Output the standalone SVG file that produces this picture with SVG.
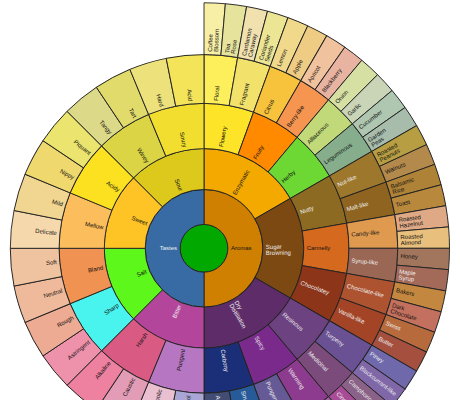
<svg xmlns="http://www.w3.org/2000/svg" width="460" height="400" viewBox="0 0 460 400">
<style>
.seg{stroke:#222;stroke-width:.9}
text{font-family:"Liberation Sans",Arial,Helvetica,sans-serif;font-size:6px;fill:#111}
.w{fill:#eee}
.e{text-anchor:end}
</style>
<defs>
<path id="r1" d="M0,-23.9L0,-58.8A58.8,58.8 0 0 1 0,58.8L0,23.9A23.9,23.9 0 0 0 0,-23.9Z"/>
<path id="r2a" d="M0,-58.8L0,-99.7A99.7,99.7 0 0 1 86.34,-49.85L50.92,-29.4A58.8,58.8 0 0 0 0,-58.8Z"/>
<path id="r2t" d="M0,-58.8L0,-99.7A99.7,99.7 0 0 1 70.50,-70.50L41.58,-41.58A58.8,58.8 0 0 0 0,-58.8Z"/>
<path id="r3a" d="M0,-99.7L0,-144.9A144.9,144.9 0 0 1 49.56,-136.16L34.10,-93.69A99.7,99.7 0 0 0 0,-99.7Z"/>
<path id="r3t" d="M0,-99.7L0,-144.9A144.9,144.9 0 0 1 55.45,-133.87L38.15,-92.11A99.7,99.7 0 0 0 0,-99.7Z"/>
<path id="r4a" d="M0,-144.9L0,-193.7A193.7,193.7 0 0 1 33.64,-190.76L25.16,-142.70A144.9,144.9 0 0 0 0,-144.9Z"/>
<path id="r4t" d="M0,-144.9L0,-193.7A193.7,193.7 0 0 1 37.79,-189.98L28.27,-142.12A144.9,144.9 0 0 0 0,-144.9Z"/>
<path id="r5a" d="M0,-193.7L0,-245.5A245.5,245.5 0 0 1 21.40,-244.57L16.88,-192.96A193.7,193.7 0 0 0 0,-193.7Z"/>
</defs>
<g id="wheel" transform="translate(204,248.3)">
<g id="root"><circle class="seg" r="23.9" fill="#00a800"/></g>
<g id="aromas"><use href="#r1" class="seg" fill="#d08000"/><text transform="translate(26.9)" dy=".2em">Aromas</text></g>
<g id="tastes"><use href="#r1" class="seg" transform="rotate(180)" fill="#386ba3"/><text class="w e" transform="rotate(180)translate(26.9)rotate(-180)" dy=".2em">Tastes</text></g>

<g id="enzymatic"><use href="#r2a" class="seg" fill="#f4a900"/><text transform="rotate(-60)translate(61.8)" dy=".2em">Enzymatic</text></g>
<g id="sugar-browning"><use href="#r2a" class="seg" transform="rotate(60)" fill="#7c4912"/><text class="w" transform="rotate(-0.5)translate(61.8)"><tspan x="0" dy=".2em">Sugar</tspan><tspan x="0" dy="1em">Browning</tspan></text></g>
<g id="dry-distillation"><use href="#r2a" class="seg" transform="rotate(120)" fill="#5e2d69"/><text class="w" transform="rotate(59.5)translate(61.8)"><tspan x="0" dy=".2em">Dry</tspan><tspan x="0" dy="1em">Distillation</tspan></text></g>
<g id="bitter"><use href="#r2t" class="seg" transform="rotate(180)" fill="#b3469b"/><text class="w e" transform="rotate(112.5)translate(61.8)rotate(-180)" dy=".2em">Bitter</text></g>
<g id="salt"><use href="#r2t" class="seg" transform="rotate(225)" fill="#5ef71b"/><text class="e" transform="rotate(157.5)translate(61.8)rotate(-180)" dy=".2em">Salt</text></g>
<g id="sweet"><use href="#r2t" class="seg" transform="rotate(270)" fill="#fec426"/><text class="e" transform="rotate(202.5)translate(61.8)rotate(-180)" dy=".2em">Sweet</text></g>
<g id="sour"><use href="#r2t" class="seg" transform="rotate(315)" fill="#dcc91c"/><text class="e" transform="rotate(247.5)translate(61.8)rotate(-180)" dy=".2em">Sour</text></g>

<g id="flowery"><use href="#r3a" class="seg" fill="#fde429"/><text transform="rotate(-80)translate(102.7)" dy=".2em">Flowery</text></g>
<g id="fruity"><use href="#r3a" class="seg" transform="rotate(20)" fill="#ff8a00"/><text transform="rotate(-60)translate(102.7)" dy=".2em">Fruity</text></g>
<g id="herby"><use href="#r3a" class="seg" transform="rotate(40)" fill="#6dd834"/><text transform="rotate(-40)translate(102.7)" dy=".2em">Herby</text></g>
<g id="nutty"><use href="#r3a" class="seg" transform="rotate(60)" fill="#8c6a22"/><text class="w" transform="rotate(-20)translate(102.7)" dy=".2em">Nutty</text></g>
<g id="carmelly"><use href="#r3a" class="seg" transform="rotate(80)" fill="#d5691e"/><text transform="translate(102.7)" dy=".2em">Carmelly</text></g>
<g id="chocolatey"><use href="#r3a" class="seg" transform="rotate(100)" fill="#8c3519"/><text class="w" transform="rotate(20)translate(102.7)" dy=".2em">Chocolatey</text></g>
<g id="resinous"><use href="#r3a" class="seg" transform="rotate(120)" fill="#6d4281"/><text class="w" transform="rotate(40)translate(102.7)" dy=".2em">Resinous</text></g>
<g id="spicy"><use href="#r3a" class="seg" transform="rotate(140)" fill="#7a2a8b"/><text class="w" transform="rotate(60)translate(102.7)" dy=".2em">Spicy</text></g>
<g id="carbony"><use href="#r3a" class="seg" transform="rotate(160)" fill="#1b2f78"/><text class="w" transform="rotate(80)translate(102.7)" dy=".2em">Carbony</text></g>
<g id="pungent-taste"><use href="#r3t" class="seg" transform="rotate(180)" fill="#b676c2"/><text class="e" transform="rotate(101.25)translate(102.7)rotate(-180)" dy=".2em">Pungent</text></g>
<g id="harsh"><use href="#r3t" class="seg" transform="rotate(202.5)" fill="#d95b83"/><text class="e" transform="rotate(123.75)translate(102.7)rotate(-180)" dy=".2em">Harsh</text></g>
<g id="sharp"><use href="#r3t" class="seg" transform="rotate(225)" fill="#4af4ee"/><text class="e" transform="rotate(146.25)translate(102.7)rotate(-180)" dy=".2em">Sharp</text></g>
<g id="bland"><use href="#r3t" class="seg" transform="rotate(247.5)" fill="#ef9252"/><text class="e" transform="rotate(168.75)translate(102.7)rotate(-180)" dy=".2em">Bland</text></g>
<g id="mellow"><use href="#r3t" class="seg" transform="rotate(270)" fill="#fcbe5c"/><text class="e" transform="rotate(191.25)translate(102.7)rotate(-180)" dy=".2em">Mellow</text></g>
<g id="acidy"><use href="#r3t" class="seg" transform="rotate(292.5)" fill="#fbe11f"/><text class="e" transform="rotate(213.75)translate(102.7)rotate(-180)" dy=".2em">Acidy</text></g>
<g id="winey"><use href="#r3t" class="seg" transform="rotate(315)" fill="#dbd444"/><text class="e" transform="rotate(236.25)translate(102.7)rotate(-180)" dy=".2em">Winey</text></g>
<g id="soury"><use href="#r3t" class="seg" transform="rotate(337.5)" fill="#f2de2e"/><text class="e" transform="rotate(258.75)translate(102.7)rotate(-180)" dy=".2em">Soury</text></g>

<g id="floral"><use href="#r4a" class="seg" fill="#fcef5b"/><text transform="rotate(-85)translate(147.9)" dy=".2em">Floral</text></g>
<g id="fragrant"><use href="#r4a" class="seg" transform="rotate(10)" fill="#f2e26c"/><text transform="rotate(-75)translate(147.9)" dy=".2em">Fragrant</text></g>
<g id="citrus"><use href="#r4a" class="seg" transform="rotate(20)" fill="#f7c23c"/><text transform="rotate(-65)translate(147.9)" dy=".2em">Citrus</text></g>
<g id="berry-like"><use href="#r4a" class="seg" transform="rotate(30)" fill="#f59550"/><text transform="rotate(-55)translate(147.9)" dy=".2em">Berry-like</text></g>
<g id="alliaceous"><use href="#r4a" class="seg" transform="rotate(40)" fill="#c2d97a"/><text transform="rotate(-45)translate(147.9)" dy=".2em">Alliaceous</text></g>
<g id="leguminous"><use href="#r4a" class="seg" transform="rotate(50)" fill="#86ae8c"/><text transform="rotate(-35)translate(147.9)" dy=".2em">Leguminous</text></g>
<g id="nut-like"><use href="#r4a" class="seg" transform="rotate(60)" fill="#9d772c"/><text class="w" transform="rotate(-25)translate(147.9)" dy=".2em">Nut-like</text></g>
<g id="malt-like"><use href="#r4a" class="seg" transform="rotate(70)" fill="#8e6420"/><text class="w" transform="rotate(-15)translate(147.9)" dy=".2em">Malt-like</text></g>
<g id="candy-like"><use href="#r4a" class="seg" transform="rotate(80)" fill="#e09a50"/><text transform="rotate(-5)translate(147.9)" dy=".2em">Candy-like</text></g>
<g id="syrup-like"><use href="#r4a" class="seg" transform="rotate(90)" fill="#9a6755"/><text class="w" transform="rotate(5)translate(147.9)" dy=".2em">Syrup-like</text></g>
<g id="chocolate-like"><use href="#r4a" class="seg" transform="rotate(100)" fill="#ad5330"/><text class="w" transform="rotate(15)translate(147.9)" dy=".2em">Chocolate-like</text></g>
<g id="vanilla-like"><use href="#r4a" class="seg" transform="rotate(110)" fill="#a34426"/><text class="w" transform="rotate(25)translate(147.9)" dy=".2em">Vanilla-like</text></g>
<g id="turpeny"><use href="#r4a" class="seg" transform="rotate(120)" fill="#6a5194"/><text class="w" transform="rotate(35)translate(147.9)" dy=".2em">Turpeny</text></g>
<g id="medicinal"><use href="#r4a" class="seg" transform="rotate(130)" fill="#7a4b7b"/><text class="w" transform="rotate(45)translate(147.9)" dy=".2em">Medicinal</text></g>
<g id="warming"><use href="#r4a" class="seg" transform="rotate(140)" fill="#8d3b8e"/><text class="w" transform="rotate(55)translate(147.9)" dy=".2em">Warming</text></g>
<g id="pungent-aroma"><use href="#r4a" class="seg" transform="rotate(150)" fill="#655a95"/><text class="w" transform="rotate(65)translate(147.9)" dy=".2em">Pungent</text></g>
<g id="smokey"><use href="#r4a" class="seg" transform="rotate(160)" fill="#275a98"/><text class="w" transform="rotate(75)translate(147.9)" dy=".2em">Smokey</text></g>
<g id="ashy"><use href="#r4a" class="seg" transform="rotate(170)" fill="#434c74"/><text class="w" transform="rotate(85)translate(147.9)" dy=".2em">Ashy</text></g>
<g id="creosol"><use href="#r4t" class="seg" transform="rotate(180)" fill="#a9a6d6"/><text class="e" transform="rotate(95.625)translate(147.9)rotate(-180)" dy=".2em">Creosol</text></g>
<g id="phenolic"><use href="#r4t" class="seg" transform="rotate(191.25)" fill="#eabfd0"/><text class="e" transform="rotate(106.875)translate(147.9)rotate(-180)" dy=".2em">Phenolic</text></g>
<g id="caustic"><use href="#r4t" class="seg" transform="rotate(202.5)" fill="#e39cb6"/><text class="e" transform="rotate(118.125)translate(147.9)rotate(-180)" dy=".2em">Caustic</text></g>
<g id="alkaline"><use href="#r4t" class="seg" transform="rotate(213.75)" fill="#ee80a0"/><text class="e" transform="rotate(129.375)translate(147.9)rotate(-180)" dy=".2em">Alkaline</text></g>
<g id="astringent"><use href="#r4t" class="seg" transform="rotate(225)" fill="#ee92ab"/><text class="e" transform="rotate(140.625)translate(147.9)rotate(-180)" dy=".2em">Astringent</text></g>
<g id="rough"><use href="#r4t" class="seg" transform="rotate(236.25)" fill="#eeab93"/><text class="e" transform="rotate(151.875)translate(147.9)rotate(-180)" dy=".2em">Rough</text></g>
<g id="neutral"><use href="#r4t" class="seg" transform="rotate(247.5)" fill="#eeba9b"/><text class="e" transform="rotate(163.125)translate(147.9)rotate(-180)" dy=".2em">Neutral</text></g>
<g id="soft"><use href="#r4t" class="seg" transform="rotate(258.75)" fill="#efc39f"/><text class="e" transform="rotate(174.375)translate(147.9)rotate(-180)" dy=".2em">Soft</text></g>
<g id="delicate"><use href="#r4t" class="seg" transform="rotate(270)" fill="#f6d8ad"/><text class="e" transform="rotate(185.625)translate(147.9)rotate(-180)" dy=".2em">Delicate</text></g>
<g id="mild"><use href="#r4t" class="seg" transform="rotate(281.25)" fill="#f0d690"/><text class="e" transform="rotate(196.875)translate(147.9)rotate(-180)" dy=".2em">Mild</text></g>
<g id="nippy"><use href="#r4t" class="seg" transform="rotate(292.5)" fill="#efd86d"/><text class="e" transform="rotate(208.125)translate(147.9)rotate(-180)" dy=".2em">Nippy</text></g>
<g id="piquant"><use href="#r4t" class="seg" transform="rotate(303.75)" fill="#ebe46e"/><text class="e" transform="rotate(219.375)translate(147.9)rotate(-180)" dy=".2em">Piquant</text></g>
<g id="tangy"><use href="#r4t" class="seg" transform="rotate(315)" fill="#dcda88"/><text class="e" transform="rotate(230.625)translate(147.9)rotate(-180)" dy=".2em">Tangy</text></g>
<g id="tart"><use href="#r4t" class="seg" transform="rotate(326.25)" fill="#e1db6c"/><text class="e" transform="rotate(241.875)translate(147.9)rotate(-180)" dy=".2em">Tart</text></g>
<g id="hard"><use href="#r4t" class="seg" transform="rotate(337.5)" fill="#ede17c"/><text class="e" transform="rotate(253.125)translate(147.9)rotate(-180)" dy=".2em">Hard</text></g>
<g id="acid"><use href="#r4t" class="seg" transform="rotate(348.75)" fill="#f3e45a"/><text class="e" transform="rotate(264.375)translate(147.9)rotate(-180)" dy=".2em">Acid</text></g>

<g id="coffee-blossom"><use href="#r5a" class="seg" fill="#f7efa6"/><text transform="rotate(-88)translate(196.7)"><tspan x="0" dy=".2em">Coffee</tspan><tspan x="0" dy="1em">Blossom</tspan></text></g>
<g id="tea-rose"><use href="#r5a" class="seg" transform="rotate(5)" fill="#e6e39c"/><text transform="rotate(-83)translate(196.7)"><tspan x="0" dy=".2em">Tea</tspan><tspan x="0" dy="1em">Rose</tspan></text></g>
<g id="cardamon-caraway"><use href="#r5a" class="seg" transform="rotate(10)" fill="#f0e1ae"/><text transform="rotate(-78)translate(196.7)"><tspan x="0" dy=".2em">Cardamon</tspan><tspan x="0" dy="1em">Caraway</tspan></text></g>
<g id="coriander-seeds"><use href="#r5a" class="seg" transform="rotate(15)" fill="#ebe594"/><text transform="rotate(-73)translate(196.7)"><tspan x="0" dy=".2em">Coriander</tspan><tspan x="0" dy="1em">Seeds</tspan></text></g>
<g id="lemon"><use href="#r5a" class="seg" transform="rotate(20)" fill="#f1d98c"/><text transform="rotate(-67.5)translate(196.7)" dy=".2em">Lemon</text></g>
<g id="apple"><use href="#r5a" class="seg" transform="rotate(25)" fill="#efcc84"/><text transform="rotate(-62.5)translate(196.7)" dy=".2em">Apple</text></g>
<g id="apricot"><use href="#r5a" class="seg" transform="rotate(30)" fill="#f1c29e"/><text transform="rotate(-57.5)translate(196.7)" dy=".2em">Apricot</text></g>
<g id="blackberry"><use href="#r5a" class="seg" transform="rotate(35)" fill="#e8b3a0"/><text transform="rotate(-52.5)translate(196.7)" dy=".2em">Blackberry</text></g>
<g id="onion"><use href="#r5a" class="seg" transform="rotate(40)" fill="#d6e0a3"/><text transform="rotate(-47.5)translate(196.7)" dy=".2em">Onion</text></g>
<g id="garlic"><use href="#r5a" class="seg" transform="rotate(45)" fill="#cad5b7"/><text transform="rotate(-42.5)translate(196.7)" dy=".2em">Garlic</text></g>
<g id="cucumber"><use href="#r5a" class="seg" transform="rotate(50)" fill="#afc6b0"/><text transform="rotate(-37.5)translate(196.7)" dy=".2em">Cucumber</text></g>
<g id="garden-peas"><use href="#r5a" class="seg" transform="rotate(55)" fill="#a7bcab"/><text transform="rotate(-33)translate(196.7)"><tspan x="0" dy=".2em">Garden</tspan><tspan x="0" dy="1em">Peas</tspan></text></g>
<g id="roasted-peanuts"><use href="#r5a" class="seg" transform="rotate(60)" fill="#b89e42"/><text transform="rotate(-28)translate(196.7)"><tspan x="0" dy=".2em">Roasted</tspan><tspan x="0" dy="1em">Peanuts</tspan></text></g>
<g id="walnuts"><use href="#r5a" class="seg" transform="rotate(65)" fill="#b3894c"/><text transform="rotate(-22.5)translate(196.7)" dy=".2em">Walnuts</text></g>
<g id="balsamic-rice"><use href="#r5a" class="seg" transform="rotate(70)" fill="#ae8237"/><text transform="rotate(-18)translate(196.7)"><tspan x="0" dy=".2em">Balsamic</tspan><tspan x="0" dy="1em">Rice</tspan></text></g>
<g id="toast"><use href="#r5a" class="seg" transform="rotate(75)" fill="#b8893d"/><text transform="rotate(-12.5)translate(196.7)" dy=".2em">Toast</text></g>
<g id="roasted-hazelnut"><use href="#r5a" class="seg" transform="rotate(80)" fill="#dfa986"/><text transform="rotate(-8)translate(196.7)"><tspan x="0" dy=".2em">Roasted</tspan><tspan x="0" dy="1em">Hazelnut</tspan></text></g>
<g id="roasted-almond"><use href="#r5a" class="seg" transform="rotate(85)" fill="#e8bf7c"/><text transform="rotate(-3)translate(196.7)"><tspan x="0" dy=".2em">Roasted</tspan><tspan x="0" dy="1em">Almond</tspan></text></g>
<g id="honey"><use href="#r5a" class="seg" transform="rotate(90)" fill="#a2765d"/><text transform="rotate(2.5)translate(196.7)" dy=".2em">Honey</text></g>
<g id="maple-syrup"><use href="#r5a" class="seg" transform="rotate(95)" fill="#a46a59"/><text class="w" transform="rotate(7)translate(196.7)"><tspan x="0" dy=".2em">Maple</tspan><tspan x="0" dy="1em">Syrup</tspan></text></g>
<g id="bakers"><use href="#r5a" class="seg" transform="rotate(100)" fill="#c3873f"/><text transform="rotate(12.5)translate(196.7)" dy=".2em">Bakers</text></g>
<g id="dark-chocolate"><use href="#r5a" class="seg" transform="rotate(105)" fill="#c4705e"/><text transform="rotate(17)translate(196.7)"><tspan x="0" dy=".2em">Dark</tspan><tspan x="0" dy="1em">Chocolate</tspan></text></g>
<g id="swiss"><use href="#r5a" class="seg" transform="rotate(110)" fill="#b76b3d"/><text class="w" transform="rotate(22.5)translate(196.7)" dy=".2em">Swiss</text></g>
<g id="butter"><use href="#r5a" class="seg" transform="rotate(115)" fill="#a54f3f"/><text class="w" transform="rotate(27.5)translate(196.7)" dy=".2em">Butter</text></g>
<g id="piney"><use href="#r5a" class="seg" transform="rotate(120)" fill="#6f68aa"/><text class="w" transform="rotate(32.5)translate(196.7)" dy=".2em">Piney</text></g>
<g id="blackcurrant-like"><use href="#r5a" class="seg" transform="rotate(125)" fill="#8068a8"/><text class="w" transform="rotate(37.5)translate(196.7)" dy=".2em">Blackcurrant-like</text></g>
<g id="camphoric"><use href="#r5a" class="seg" transform="rotate(130)" fill="#8a6287"/><text class="w" transform="rotate(42.5)translate(196.7)" dy=".2em">Camphoric</text></g>
<g id="cineolic"><use href="#r5a" class="seg" transform="rotate(135)" fill="#a84c98"/><text class="w" transform="rotate(47.5)translate(196.7)" dy=".2em">Cineolic</text></g>
<g id="cedar"><use href="#r5a" class="seg" transform="rotate(140)" fill="#a0649c"/><text class="w" transform="rotate(52.5)translate(196.7)" dy=".2em">Cedar</text></g>
<g id="pepper"><use href="#r5a" class="seg" transform="rotate(145)" fill="#8c5a81"/><text class="w" transform="rotate(57.5)translate(196.7)" dy=".2em">Pepper</text></g>
<g id="clove"><use href="#r5a" class="seg" transform="rotate(150)" fill="#79506f"/><text class="w" transform="rotate(62.5)translate(196.7)" dy=".2em">Clove</text></g>
<g id="thyme"><use href="#r5a" class="seg" transform="rotate(155)" fill="#6d5876"/><text class="w" transform="rotate(67.5)translate(196.7)" dy=".2em">Thyme</text></g>
<g id="tarry"><use href="#r5a" class="seg" transform="rotate(160)" fill="#3e4a87"/><text class="w" transform="rotate(72.5)translate(196.7)" dy=".2em">Tarry</text></g>
<g id="pipe-tobacco"><use href="#r5a" class="seg" transform="rotate(165)" fill="#42609c"/><text class="w" transform="rotate(77)translate(196.7)"><tspan x="0" dy=".2em">Pipe</tspan><tspan x="0" dy="1em">Tobacco</tspan></text></g>
<g id="burnt"><use href="#r5a" class="seg" transform="rotate(170)" fill="#3b5488"/><text class="w" transform="rotate(82.5)translate(196.7)" dy=".2em">Burnt</text></g>
<g id="charred"><use href="#r5a" class="seg" transform="rotate(175)" fill="#395c8b"/><text class="w" transform="rotate(87.5)translate(196.7)" dy=".2em">Charred</text></g>
</g>
<g id="connectors"></g>
</svg>
